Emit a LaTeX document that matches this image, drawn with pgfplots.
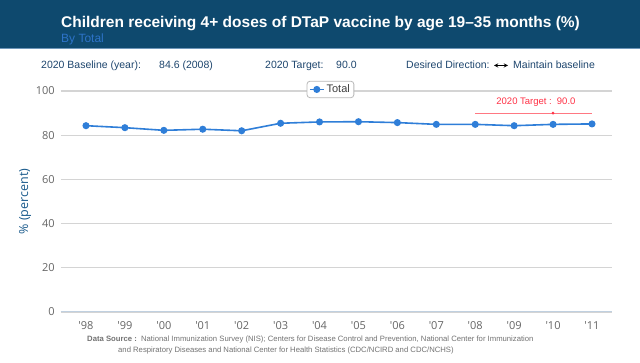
\documentclass[border=0pt]{standalone}
\usepackage{fontspec}
\setmainfont{Liberation Sans}
\newfontfamily\tickfont{Open Sans}
\usepackage{pgfplots}
\pgfplotsset{compat=1.18}
\definecolor{band}{RGB}{14,73,110}
\definecolor{bandline}{RGB}{110,150,185}
\definecolor{subt}{RGB}{45,115,200}
\definecolor{info}{RGB}{30,70,110}
\definecolor{tickgray}{RGB}{102,102,102}
\definecolor{ylab}{RGB}{25,90,140}
\definecolor{gridc}{RGB}{212,212,212}
\definecolor{axisc}{RGB}{192,208,224}
\definecolor{series}{RGB}{47,126,216}
\definecolor{tgtred}{RGB}{255,50,70}
\definecolor{tgtline}{RGB}{255,120,130}
\definecolor{srcgray}{RGB}{115,115,115}
\begin{document}
\begin{tikzpicture}[x=1pt,y=1pt]
\useasboundingbox (0,0) rectangle (640,363);
\fill[white] (0,0) rectangle (640,363);
\fill[band] (0,315) rectangle (640,363);
\draw[bandline, line width=0.8pt] (0,315) -- (640,315);
\node[anchor=base west, inner sep=0pt, text=white] at (61,335) {\fontsize{15.5}{18}\selectfont\bfseries Children receiving 4+ doses of DTaP vaccine by age 19–35 months (\%)};
\node[anchor=base west, inner sep=0pt, text=subt] at (61,320) {\fontsize{12}{14}\selectfont By Total};
\begin{scope}[every node/.style={anchor=base west, inner sep=0pt, text=info, font=\fontsize{10.5}{12}\selectfont}]
\node at (41,294) {2020 Baseline (year):};
\node at (159,294) {84.6 (2008)};
\node at (265,294) {2020 Target:};
\node at (336,294) {90.0};
\node at (406,294) {Desired Direction:};
\node at (513,294) {Maintain baseline};
\end{scope}
\draw[black, line width=0.9pt, <->, >=stealth] (494,297.5) -- (508,297.5);
\begin{axis}[
  at={(61pt,51pt)}, anchor=south west,
  scale only axis, width=551pt, height=221pt,
  xmin=-0.642, xmax=13.514, ymin=0, ymax=100,
  axis x line=bottom, axis y line=left,
  x axis line style={-, draw=axisc, line width=1pt},
  y axis line style={draw=none},
  xtick={0,...,13},
  xticklabels={'98,'99,'00,'01,'02,'03,'04,'05,'06,'07,'08,'09,'10,'11},
  major x tick style={draw=none},
  extra x ticks={0.370,1.381,2.393,3.404,4.415,5.426,6.437,7.448,8.460,9.471,10.482,11.493,12.504,13.514},
  extra x tick labels={},
  extra x tick style={tick align=outside, major tick length=5pt, major tick style={draw=axisc, line width=0.8pt}},
  ytick={0,20,...,100},
  ytick style={draw=none},
  ymajorgrids, grid style={gridc, line width=1.1pt},
  /pgf/number format/assume math mode=true,
  xticklabel style={font=\tickfont\fontsize{11}{12}\selectfont, text=tickgray, anchor=north, inner sep=0pt, yshift=-7pt},
  yticklabel style={font=\tickfont\fontsize{11}{12}\selectfont, text=tickgray, anchor=east, inner sep=0pt, xshift=-4pt},
  ylabel={\% (percent)},
  every axis y label/.style={at={(rel axis cs:-0.0653,0.5)}, rotate=90, anchor=center, font=\tickfont\fontsize{12.5}{14}\selectfont, text=ylab},
  clip=false,
  legend style={at={(0.489,1.007)}, anchor=center, draw=gray!55, rounded corners=3pt, fill=white,
    font=\fontsize{11}{12}\selectfont, text=black!75, inner xsep=2pt, inner ysep=1.5pt, line width=0.8pt},
  legend image code/.code={\draw[#1, mark repeat=2, mark phase=2] plot coordinates {(0pt,0pt) (7pt,0pt) (14pt,0pt)};},
]
\addplot[fill=tgtline, draw=none, forget plot] coordinates {(10,89.8) (13,89.8) (13,90.2) (10,90.2)} -- cycle;
\addplot[color=series, line width=1.6pt, mark=*, mark size=2.7pt, mark options={fill=series, draw=series}]
  coordinates {(0,84.3) (1,83.4) (2,82.2) (3,82.7) (4,82.0) (5,85.4) (6,86.0) (7,86.1) (8,85.7) (9,84.9) (10,84.9) (11,84.3) (12,84.9) (13,85.1)};
\addlegendentry{Total}
\addplot[color=tgtred, only marks, mark=*, mark size=1.2pt, mark options={fill=tgtred, draw=tgtred}, forget plot] coordinates {(12,90)};
\node[text=tgtred, font=\fontsize{9.5}{11}\selectfont, inner sep=0pt] at (axis cs:11.56,95) {2020 Target :\, 90.0};
\end{axis}
\node[anchor=base west, inner sep=0pt, text=srcgray, font=\fontsize{7.7}{9}\selectfont] at (87,21) {\textbf{Data Source :}\ \ National Immunization Survey (NIS); Centers for Disease Control and Prevention, National Center for Immunization};
\node[anchor=base west, inner sep=0pt, text=srcgray, font=\fontsize{7.7}{9}\selectfont] at (118,10) {and Respiratory Diseases and National Center for Health Statistics (CDC/NCIRD and CDC/NCHS)};
\end{tikzpicture}
\end{document}
